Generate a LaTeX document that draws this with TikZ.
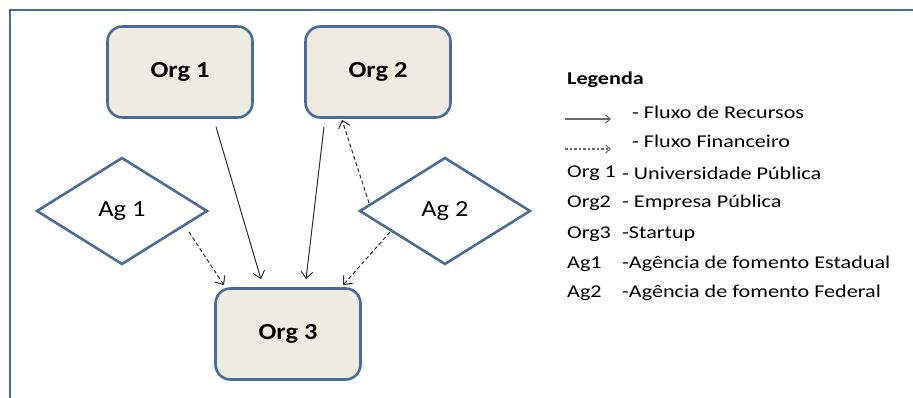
\documentclass[tikz,border=0pt]{standalone}
\usepackage{fontspec}
\setmainfont{Carlito}[FakeStretch=1.15]
\newfontfamily\legfont{Carlito}[FakeStretch=1.23]
\usetikzlibrary{shapes.geometric,arrows.meta,calc}
\definecolor{frameblue}{HTML}{4A6C9B}
\definecolor{boxfill}{HTML}{EEECE1}
\definecolor{arrowgray}{HTML}{2E2E2E}
\definecolor{leggray}{HTML}{6A6A6A}
\tikzset{
  orgbox/.style={draw=frameblue, line width=2.6pt, fill=boxfill, rounded corners=15pt,
    minimum width=145pt, minimum height=91pt, inner sep=0pt,
    font=\fontsize{23}{27}\selectfont\bfseries},
  agdia/.style={draw=frameblue, line width=2.6pt, fill=white, diamond, aspect=1.6,
    minimum width=171pt, minimum height=107pt, inner sep=0pt,
    font=\fontsize{23}{27}\selectfont},
  solidflow/.style={draw=arrowgray, line width=1pt, -{Straight Barb[length=7pt,width=12pt]}},
  dashflow/.style={solidflow, dash pattern=on 4pt off 2.5pt},
  legtext/.style={anchor=west, inner sep=0pt, font=\legfont\fontsize{18}{21}\selectfont},
  legarrow/.style={draw=leggray, line width=1.1pt, -{Straight Barb[length=4.5pt,width=8pt]}},
}
\begin{document}
\begin{tikzpicture}[x=1pt,y=-1pt]
\useasboundingbox (0,0) rectangle (913,398);
% frame
\draw[frameblue, line width=2.6pt] (10,400) -- (10,10) -- (915,10);
% nodes
\node[orgbox] (org1) at (180,72) {Org 1};
\node[orgbox] (org2) at (378,72) {Org 2};
\node[orgbox] (org3) at (288,334) {Org 3};
\node[agdia] (ag1) at (122,211) {Ag 1};
\node[agdia] (ag2) at (445,211) {Ag 2};
% connectors
\draw[solidflow] ($(org1.south)+(36,8)$) -- ($(org3.north)+(-27,-8)$);
\draw[solidflow] ($(org2.south)+(-54,8)$) -- ($(org3.north)+(18,-8)$);
\draw[dashflow] ($(ag1.center)+(67,21)$) -- ($(org3.north)+(-64,-2)$);
\draw[dashflow] ($(ag2.center)+(-76,-8)$) -- ($(org2.south)+(-36,1)$);
\draw[dashflow] ($(ag2.center)+(-55,21)$) -- ($(org3.north)+(55,-2)$);
% legend
\node[legtext, font=\legfont\fontsize{18}{21}\selectfont\bfseries] (legtitle) at (567,80) {Legenda};
\coordinate (la1) at (565,119); \coordinate (lb1) at (611,119);
\coordinate (la2) at (565,149); \coordinate (lb2) at (611,149);
\draw[legarrow] (la1) -- (lb1);
\draw[legarrow, dash pattern=on 2.5pt off 2pt] (la2) -- (lb2);
\node[legtext] (d1) at (632,112) {- Fluxo de Recursos};
\node[legtext] (d2) at (632,141) {- Fluxo Financeiro};
\node[legtext] (k3) at (567,173) {Org 1};
\node[legtext] (d3) at (622,173) {- Universidade Pública};
\node[legtext] (k4) at (567,203) {Org2};
\node[legtext] (d4) at (622,203) {- Empresa Pública};
\node[legtext] (k5) at (567,234) {Org3};
\node[legtext] (d5) at (622,234) {-Startup};
\node[legtext] (k6) at (567,264) {Ag1};
\node[legtext] (d6) at (622,264) {-Agência de fomento Estadual};
\node[legtext] (k7) at (567,293) {Ag2};
\node[legtext] (d7) at (622,293) {-Agência de fomento Federal};
\end{tikzpicture}
\end{document}
